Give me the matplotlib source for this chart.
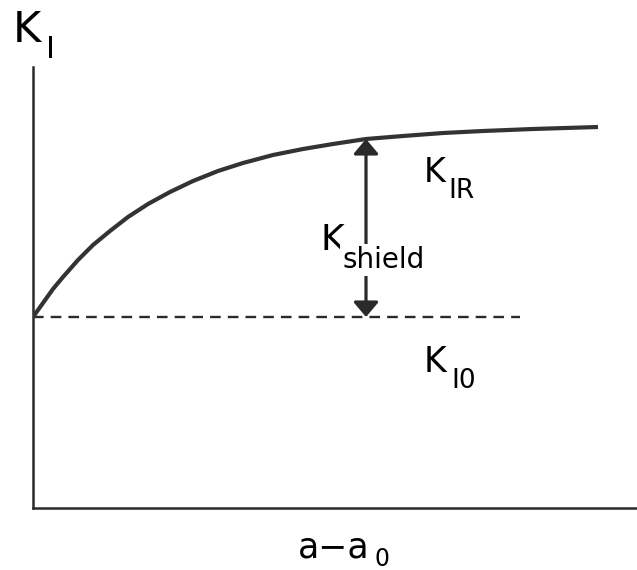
import matplotlib.pyplot as plt

# crack growth resistance curve (arbitrary units)
da = [0, 10, 20, 30, 45, 60, 77, 95, 115, 137, 160, 185, 210, 240, 270,
      300, 333, 370, 410, 450, 500, 565]
k_r = [191, 205, 219, 231, 248, 263, 277, 291, 304, 316, 327, 337, 345, 353,
       359, 364, 369, 372, 375, 377, 379, 381]
k_i0 = 191
da_dash_end = 487
da_arrow = 333
k_arrow_top = 369

W, H = 637, 570
fig = plt.figure(figsize=(W / 100, H / 100), dpi=100)
ax = fig.add_axes([33 / W, 62 / H, (W - 33) / W, (508 - 67) / H])

ink = '#2a2a2a'

# R-curve
ax.plot(da, k_r, color='#333333', lw=3.0, solid_capstyle='butt',
        solid_joinstyle='round', zorder=3)

# initiation level
ax.plot([0, da_dash_end], [k_i0, k_i0], color=ink, lw=1.7,
        dashes=(4.5, 3), zorder=2)

# shielding contribution
ax.annotate('', xy=(da_arrow, k_arrow_top), xytext=(da_arrow, k_i0),
            arrowprops=dict(arrowstyle='<|-|>,head_length=0.45,head_width=0.38',
                            mutation_scale=20, color=ink, lw=2.3,
                            shrinkA=0, shrinkB=0, facecolor='#555555'),
            zorder=2)

ax.set_xlim(0, W - 33)
ax.set_ylim(0, 508 - 67)
for side in ['top', 'right']:
    ax.spines[side].set_visible(False)
for side in ['left', 'bottom']:
    ax.spines[side].set_linewidth(1.8)
    ax.spines[side].set_color(ink)
ax.set_xticks([])
ax.set_yticks([])
ax.patch.set_alpha(0)


def label(x, y, s, size, **kw):
    fig.text(x / W, 1 - y / H, s, fontsize=size, color='black',
             ha='left', va='baseline', **kw)


# axis labels
label(13, 42, 'K', 31)
label(46, 58, 'I', 22)
label(298, 557, 'a\u2212a', 25)
label(374, 566, '0', 17)

# curve labels
label(424, 182, 'K', 24)
label(448, 198, 'IR', 19)
label(321, 250, 'K', 26)
label(342, 268, 'shield', 20,
      bbox=dict(facecolor='white', edgecolor='none', pad=1.5))
label(424, 372, 'K', 25)
label(451, 388, 'I0', 19)

fig.savefig('out.png', dpi=100)
